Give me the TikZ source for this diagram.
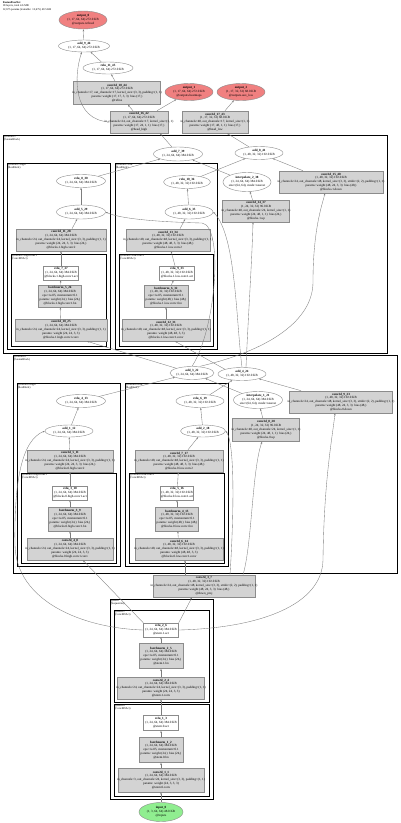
\documentclass[tikz,border=0pt]{standalone}
\usepackage{fontspec}
\setmainfont{Liberation Serif}
\usepackage{tikz}
\usetikzlibrary{arrows.meta, shapes.geometric}
\usepackage{xcolor}
\definecolor{modfill}{RGB}{211,211,211}
\definecolor{modline}{RGB}{140,140,140}
\definecolor{outfill}{RGB}{240,128,128}
\definecolor{infill}{RGB}{144,238,144}
\definecolor{edgegray}{RGB}{125,125,125}

\newcommand{\hb}[1]{\makebox[0pt]{#1}}
\newcommand{\modlbl}[5]{\hb{\textbf{#1}}\\\hb{#2}\\\hb{#3}\\\hb{#4}\\\hb{#5}}
\newcommand{\trilbl}[3]{\hb{\textbf{#1}}\\\hb{#2}\\\hb{#3}}
\newcommand{\duolbl}[2]{\hb{\textbf{#1}}\\\hb{#2}}

\tikzset{
  sz/.style 2 args={minimum width=#1pt, minimum height=#2pt},
  nodetxt/.style={font=\fontsize{3.2}{3.9}\selectfont, align=center, inner sep=0pt},
  modbox/.style={nodetxt, rectangle, draw=modline, fill=modfill, line width=0.6pt},
  relubox/.style={nodetxt, rectangle, draw=modline, fill=white, line width=0.5pt},
  fnell/.style={nodetxt, ellipse, draw=modline, fill=white, line width=0.4pt},
  outell/.style={nodetxt, ellipse, draw=modline, fill=outfill, line width=0.4pt},
  inell/.style={nodetxt, ellipse, draw=modline, fill=infill, line width=0.4pt},
  frame/.style={draw=black, line width=0.7pt},
  flabel/.style={font=\fontsize{2.8}{3.2}\selectfont, align=left, anchor=north west, inner sep=0.6pt},
  edge/.style={draw=edgegray, line width=0.35pt, -{Stealth[length=2.2pt,width=1.6pt]}}
}

\begin{document}
\begin{tikzpicture}[x=1pt, y=-1pt]
  \useasboundingbox[fill=white] (0,0) rectangle (400,823);

  % title
  \node[flabel] (title) at (2,1) {\textbf{FusionPoseNet}\\18 layers, total 4.6 MB\\12,675 params (trainable: 12,675) 49.5 KB};

  % clusters
  \foreach \xa/\ya/\xb/\yb/\nm/\cls/\id in {
      3/135/387/353/blocks.1/FusionBlock/fa,
      7/163/110/349/blocks.1.high/ResBlock/fb,
      11/254/106/346/blocks.1.high.conv1/ConvBNAct/fc,
      115/163/217/349/blocks.1.low/ResBlock/fd,
      119/254/213/346/blocks.1.low.conv1/ConvBNAct/fe,
      13/355/397/573/blocks.0/FusionBlock/ff,
      17/383/120/566/blocks.0.high/ResBlock/fg,
      21/473/116/563/blocks.0.high.conv1/ConvBNAct/fh,
      125/383/228/566/blocks.0.low/ResBlock/fi,
      129/473/224/563/blocks.0.low.conv1/ConvBNAct/fj,
      110/599/213/799/stem/Sequential/fk,
      114/610/209/702/stem.1/ConvBNAct/fl,
      114/704/209/796/stem.0/ConvBNAct/fm} {
    \draw[frame] (\xa,\ya) rectangle (\xb,\yb);
    \node[flabel] (lbl-\id) at (\xa,\ya) {@\nm\\(\cls)};
  }

  % heads and outputs
  \node[outell, sz={48}{18}] (output_0) at (83,20) {\trilbl{output\_0}{(1, 17, 64, 64) 272.0 KB}{@outputs.refined}};
  \node[fnell, sz={51}{12}] (add_9_46) at (84,46) {\duolbl{add\_9\_46}{(1, 17, 64, 64) 272.0 KB}};
  \node[fnell, sz={50}{12}] (relu_11_45) at (108,68) {\duolbl{relu\_11\_45}{(1, 17, 64, 64) 272.0 KB}};
  \node[modbox, sz={87}{23}] (conv2d_18_44) at (117,93) {\modlbl{conv2d\_18\_44}{(1, 17, 64, 64) 272.0 KB}{in\_channels=17, out\_channels=17, kernel\_size=(3, 3), padding=(1, 1)}{params: weight (17, 17, 3, 3) \ bias (17,)}{@refine}};
  \node[outell, sz={48}{17}] (output_1) at (189,92) {\trilbl{output\_1}{(1, 17, 64, 64) 272.0 KB}{@outputs.heatmaps}};
  \node[outell, sz={48}{17}] (output_2) at (241,92) {\trilbl{output\_2}{(1, 17, 32, 32) 68.0 KB}{@outputs.aux\_low}};
  \node[modbox, sz={58}{22}] (conv2d_16_42) at (139,122) {\modlbl{conv2d\_16\_42}{(1, 17, 64, 64) 272.0 KB}{in\_channels=24, out\_channels=17, kernel\_size=(1, 1)}{params: weight (17, 24, 1, 1) \ bias (17,)}{@head\_high}};
  \node[modbox, sz={66}{22}] (conv2d_17_43) at (215,122) {\modlbl{conv2d\_17\_43}{(1, 17, 32, 32) 68.0 KB}{in\_channels=48, out\_channels=17, kernel\_size=(1, 1)}{params: weight (17, 48, 1, 1) \ bias (17,)}{@head\_low}};

  % blocks.1
  \node[fnell, sz={49}{14}] (add_7_39) at (178,154) {\duolbl{add\_7\_39}{(1, 24, 64, 64) 384.0 KB}};
  \node[fnell, sz={48}{13}] (add_8_41) at (259,153) {\duolbl{add\_8\_41}{(1, 48, 32, 32) 192.0 KB}};
  \node[fnell, sz={48}{19}] (interpolate_2_38) at (247,182) {\trilbl{interpolate\_2\_38}{(1, 24, 64, 64) 384.0 KB}{size=(64, 64), mode=nearest}};
  \node[modbox, sz={67}{22}] (conv2d_14_37) at (256,211) {\modlbl{conv2d\_14\_37}{(1, 24, 32, 32) 96.0 KB}{in\_channels=48, out\_channels=24, kernel\_size=(1, 1)}{params: weight (24, 48, 1, 1) \ bias (24,)}{@blocks.1.up}};
  \node[modbox, sz={104}{22}] (conv2d_15_40) at (331,182) {\modlbl{conv2d\_15\_40}{(1, 48, 32, 32) 192.0 KB}{in\_channels=24, out\_channels=48, kernel\_size=(3, 3), stride=(2, 2), padding=(1, 1)}{params: weight (48, 24, 3, 3) \ bias (48,)}{@blocks.1.down}};

  \node[fnell, sz={49}{13}] (relu_8_30) at (81,181) {\duolbl{relu\_8\_30}{(1, 24, 64, 64) 384.0 KB}};
  \node[fnell, sz={49}{14}] (add_5_29) at (81,212) {\duolbl{add\_5\_29}{(1, 24, 64, 64) 384.0 KB}};
  \node[modbox, sz={90}{22}] (conv2d_11_28) at (61,240) {\modlbl{conv2d\_11\_28}{(1, 24, 64, 64) 384.0 KB}{in\_channels=24, out\_channels=24, kernel\_size=(3, 3), padding=(1, 1)}{params: weight (24, 24, 3, 3) \ bias (24,)}{@blocks.1.high.conv2}};
  \node[relubox, sz={35}{14}] (relu_7_27) at (61,273) {\trilbl{relu\_7\_27}{(1, 24, 64, 64) 384.0 KB}{@blocks.1.high.conv1.act}};
  \node[modbox, sz={43}{22}] (batchnorm_5_26) at (60,296) {\modlbl{batchnorm\_5\_26}{(1, 24, 64, 64) 384.0 KB}{eps=1e-05, momentum=0.1}{params: weight (24,) \ bias (24,)}{@blocks.1.high.conv1.bn}};
  \node[modbox, sz={92}{22}] (conv2d_10_25) at (61,330) {\modlbl{conv2d\_10\_25}{(1, 24, 64, 64) 384.0 KB}{in\_channels=24, out\_channels=24, kernel\_size=(3, 3), padding=(1, 1)}{params: weight (24, 24, 3, 3)}{@blocks.1.high.conv1.conv}};

  \node[fnell, sz={47}{13}] (relu_10_36) at (187,182) {\duolbl{relu\_10\_36}{(1, 48, 32, 32) 192.0 KB}};
  \node[fnell, sz={48}{14}] (add_6_35) at (189,212) {\duolbl{add\_6\_35}{(1, 48, 32, 32) 192.0 KB}};
  \node[modbox, sz={84}{22}] (conv2d_13_34) at (168,240) {\modlbl{conv2d\_13\_34}{(1, 48, 32, 32) 192.0 KB}{in\_channels=48, out\_channels=48, kernel\_size=(3, 3), padding=(1, 1)}{params: weight (48, 48, 3, 3) \ bias (48,)}{@blocks.1.low.conv2}};
  \node[relubox, sz={35}{14}] (relu_9_33) at (177,273) {\trilbl{relu\_9\_33}{(1, 48, 32, 32) 192.0 KB}{@blocks.1.low.conv1.act}};
  \node[modbox, sz={44}{22}] (batchnorm_6_32) at (166,296) {\modlbl{batchnorm\_6\_32}{(1, 48, 32, 32) 192.0 KB}{eps=1e-05, momentum=0.1}{params: weight (48,) \ bias (48,)}{@blocks.1.low.conv1.bn}};
  \node[modbox, sz={88}{22}] (conv2d_12_31) at (166,330) {\modlbl{conv2d\_12\_31}{(1, 48, 32, 32) 192.0 KB}{in\_channels=48, out\_channels=48, kernel\_size=(3, 3), padding=(1, 1)}{params: weight (48, 48, 3, 3)}{@blocks.1.low.conv1.conv}};

  % blocks.0
  \node[fnell, sz={44}{13}] (add_3_22) at (192,373) {\duolbl{add\_3\_22}{(1, 24, 64, 64) 384.0 KB}};
  \node[fnell, sz={48}{13}] (add_4_24) at (242,374) {\duolbl{add\_4\_24}{(1, 48, 32, 32) 192.0 KB}};
  \node[fnell, sz={49}{17}] (interpolate_1_21) at (258,400) {\trilbl{interpolate\_1\_21}{(1, 24, 64, 64) 384.0 KB}{size=(64, 64), mode=nearest}};
  \node[modbox, sz={103}{22}] (conv2d_9_23) at (341,402) {\modlbl{conv2d\_9\_23}{(1, 48, 32, 32) 192.0 KB}{in\_channels=24, out\_channels=48, kernel\_size=(3, 3), stride=(2, 2), padding=(1, 1)}{params: weight (48, 24, 3, 3) \ bias (48,)}{@blocks.0.down}};
  \node[modbox, sz={67}{23}] (conv2d_8_20) at (266,430) {\modlbl{conv2d\_8\_20}{(1, 24, 32, 32) 96.0 KB}{in\_channels=48, out\_channels=24, kernel\_size=(1, 1)}{params: weight (24, 48, 1, 1) \ bias (24,)}{@blocks.0.up}};

  \node[fnell, sz={49}{13}] (relu_4_13) at (81,401) {\duolbl{relu\_4\_13}{(1, 24, 64, 64) 384.0 KB}};
  \node[fnell, sz={48}{12}] (add_1_12) at (69,431) {\duolbl{add\_1\_12}{(1, 24, 64, 64) 384.0 KB}};
  \node[modbox, sz={86}{22}] (conv2d_5_11) at (70,461) {\modlbl{conv2d\_5\_11}{(1, 24, 64, 64) 384.0 KB}{in\_channels=24, out\_channels=24, kernel\_size=(3, 3), padding=(1, 1)}{params: weight (24, 24, 3, 3) \ bias (24,)}{@blocks.0.high.conv2}};
  \node[relubox, sz={35}{14}] (relu_3_10) at (70,493) {\trilbl{relu\_3\_10}{(1, 24, 64, 64) 384.0 KB}{@blocks.0.high.conv1.act}};
  \node[modbox, sz={43}{24}] (batchnorm_3_9) at (70,519) {\modlbl{batchnorm\_3\_9}{(1, 24, 64, 64) 384.0 KB}{eps=1e-05, momentum=0.1}{params: weight (24,) \ bias (24,)}{@blocks.0.high.conv1.bn}};
  \node[modbox, sz={86}{22}] (conv2d_4_8) at (70,549) {\modlbl{conv2d\_4\_8}{(1, 24, 64, 64) 384.0 KB}{in\_channels=24, out\_channels=24, kernel\_size=(3, 3), padding=(1, 1)}{params: weight (24, 24, 3, 3)}{@blocks.0.high.conv1.conv}};

  \node[fnell, sz={48}{13}] (relu_6_19) at (200,401) {\duolbl{relu\_6\_19}{(1, 48, 32, 32) 192.0 KB}};
  \node[fnell, sz={45}{12}] (add_2_18) at (203,431) {\duolbl{add\_2\_18}{(1, 48, 32, 32) 192.0 KB}};
  \node[modbox, sz={88}{22}] (conv2d_7_17) at (179,461) {\modlbl{conv2d\_7\_17}{(1, 48, 32, 32) 192.0 KB}{in\_channels=48, out\_channels=48, kernel\_size=(3, 3), padding=(1, 1)}{params: weight (48, 48, 3, 3) \ bias (48,)}{@blocks.0.low.conv2}};
  \node[relubox, sz={33}{14}] (relu_5_16) at (177,493) {\trilbl{relu\_5\_16}{(1, 48, 32, 32) 192.0 KB}{@blocks.0.low.conv1.act}};
  \node[modbox, sz={43}{24}] (batchnorm_4_15) at (177,519) {\modlbl{batchnorm\_4\_15}{(1, 48, 32, 32) 192.0 KB}{eps=1e-05, momentum=0.1}{params: weight (48,) \ bias (48,)}{@blocks.0.low.conv1.bn}};
  \node[modbox, sz={88}{22}] (conv2d_6_14) at (179,549) {\modlbl{conv2d\_6\_14}{(1, 48, 32, 32) 192.0 KB}{in\_channels=48, out\_channels=48, kernel\_size=(3, 3), padding=(1, 1)}{params: weight (48, 48, 3, 3)}{@blocks.0.low.conv1.conv}};

  \node[modbox, sz={102}{22}] (conv2d_3_7) at (204,586) {\modlbl{conv2d\_3\_7}{(1, 48, 32, 32) 192.0 KB}{in\_channels=24, out\_channels=48, kernel\_size=(3, 3), stride=(2, 2), padding=(1, 1)}{params: weight (48, 24, 3, 3) \ bias (48,)}{@down\_proj}};

  % stem
  \node[relubox, sz={35}{14}] (relu_2_6) at (161,630) {\trilbl{relu\_2\_6}{(1, 24, 64, 64) 384.0 KB}{@stem.1.act}};
  \node[modbox, sz={44}{25}] (batchnorm_2_5) at (161,656) {\modlbl{batchnorm\_2\_5}{(1, 24, 64, 64) 384.0 KB}{eps=1e-05, momentum=0.1}{params: weight (24,) \ bias (24,)}{@stem.1.bn}};
  \node[modbox, sz={87}{22}] (conv2d_2_4) at (161,688) {\modlbl{conv2d\_2\_4}{(1, 24, 64, 64) 384.0 KB}{in\_channels=24, out\_channels=24, kernel\_size=(3, 3), padding=(1, 1)}{params: weight (24, 24, 3, 3)}{@stem.1.conv}};
  \node[relubox, sz={35}{15}] (relu_1_3) at (161,723) {\trilbl{relu\_1\_3}{(1, 24, 64, 64) 384.0 KB}{@stem.0.act}};
  \node[modbox, sz={44}{25}] (batchnorm_1_2) at (161,750) {\modlbl{batchnorm\_1\_2}{(1, 24, 64, 64) 384.0 KB}{eps=1e-05, momentum=0.1}{params: weight (24,) \ bias (24,)}{@stem.0.bn}};
  \node[modbox, sz={86}{24}] (conv2d_1_1) at (161,780) {\modlbl{conv2d\_1\_1}{(1, 24, 64, 64) 384.0 KB}{in\_channels=3, out\_channels=24, kernel\_size=(3, 3), padding=(1, 1)}{params: weight (24, 3, 3, 3)}{@stem.0.conv}};
  \node[inell, sz={44}{19}] (input_0) at (161,812) {\trilbl{input\_0}{(1, 3, 64, 64) 48.0 KB}{@inputs}};

  \coordinate (lgap) at (15,545);
  \coordinate (rgap) at (323,560);
  \coordinate (hgap) at (202,223);
  \coordinate (dgap) at (313,282);

  % stem edges
  \draw[edge] (input_0) -- (conv2d_1_1);
  \draw[edge] (conv2d_1_1) -- (batchnorm_1_2);
  \draw[edge] (batchnorm_1_2) -- (relu_1_3);
  \draw[edge] (relu_1_3) -- (conv2d_2_4);
  \draw[edge] (conv2d_2_4) -- (batchnorm_2_5);
  \draw[edge] (batchnorm_2_5) -- (relu_2_6);
  \draw[edge] (relu_2_6.north west) -- ([xshift=13pt]conv2d_4_8.south);
  \draw[edge] (relu_2_6.west) .. controls (80,628) and (16,600) .. (lgap) .. controls (14,480) and (22,440) .. (add_1_12.west);
  \draw[edge] (relu_2_6.north east) -- ([xshift=-12pt]conv2d_3_7.south);
  \draw[edge] (relu_2_6.east) .. controls (260,628) and (322,605) .. (rgap) .. controls (324,480) and (332,440) .. ([xshift=-6pt]conv2d_9_23.south);
  \draw[edge] ([xshift=-19pt]conv2d_3_7.north) -- ([xshift=6pt]conv2d_6_14.south);
  \draw[edge] ([xshift=26pt]conv2d_3_7.north) .. controls (233,530) and (236,445) .. (add_2_18.east);
  \draw[edge] ([xshift=39pt]conv2d_3_7.north) .. controls (252,545) and (252,470) .. ([xshift=-4pt]conv2d_8_20.south);

  % blocks.0 edges
  \draw[edge] (conv2d_4_8) -- (batchnorm_3_9);
  \draw[edge] (batchnorm_3_9) -- (relu_3_10);
  \draw[edge] (relu_3_10) -- (conv2d_5_11);
  \draw[edge] (conv2d_5_11) -- (add_1_12);
  \draw[edge] (add_1_12) -- (relu_4_13);
  \draw[edge] (conv2d_6_14) -- (batchnorm_4_15);
  \draw[edge] (batchnorm_4_15) -- (relu_5_16);
  \draw[edge] (relu_5_16) -- (conv2d_7_17);
  \draw[edge] (conv2d_7_17) -- (add_2_18);
  \draw[edge] (add_2_18) -- (relu_6_19);
  \draw[edge] (conv2d_8_20) -- (interpolate_1_21);
  \draw[edge] (relu_4_13) -- (add_3_22);
  \draw[edge] (interpolate_1_21) -- (add_3_22);
  \draw[edge] (relu_6_19) -- (add_4_24);
  \draw[edge] (conv2d_9_23) -- (add_4_24);

  % into blocks.1
  \draw[edge] (add_3_22.north west) -- ([xshift=26pt]conv2d_10_25.south);
  \draw[edge] (add_3_22.north) .. controls (216,330) and (224,226) .. (hgap) .. controls (160,222) and (120,219) .. (add_5_29.east);
  \draw[edge] ([xshift=8pt]add_3_22.north) .. controls (270,350) and (313,320) .. (dgap) .. controls (313,230) and (322,205) .. ([xshift=-6pt]conv2d_15_40.south);
  \draw[edge] (add_4_24.north west) -- ([xshift=9pt]conv2d_12_31.south);
  \draw[edge] (add_4_24.north) .. controls (236,320) and (236,235) .. (add_6_35.east);
  \draw[edge] ([xshift=4pt]add_4_24.north) .. controls (248,320) and (252,260) .. ([xshift=-3pt]conv2d_14_37.south);

  % blocks.1 edges
  \draw[edge] (conv2d_10_25) -- (batchnorm_5_26);
  \draw[edge] (batchnorm_5_26) -- (relu_7_27);
  \draw[edge] (relu_7_27) -- (conv2d_11_28);
  \draw[edge] ([xshift=11pt]conv2d_11_28.north) -- (add_5_29);
  \draw[edge] (add_5_29) -- (relu_8_30);
  \draw[edge] (conv2d_12_31) -- (batchnorm_6_32);
  \draw[edge] (batchnorm_6_32) -- (relu_9_33);
  \draw[edge] (relu_9_33) -- (conv2d_13_34);
  \draw[edge] ([xshift=12pt]conv2d_13_34.north) -- (add_6_35);
  \draw[edge] (add_6_35) -- (relu_10_36);
  \draw[edge] (conv2d_14_37) -- (interpolate_2_38);
  \draw[edge] (relu_8_30) -- (add_7_39);
  \draw[edge] (interpolate_2_38) -- (add_7_39);
  \draw[edge] (relu_10_36) -- (add_8_41);
  \draw[edge] (conv2d_15_40) -- (add_8_41);

  % heads
  \draw[edge] (add_7_39) -- ([xshift=21pt]conv2d_16_42.south);
  \draw[edge] (add_8_41) -- ([xshift=12pt]conv2d_17_43.south);
  \draw[edge] ([xshift=-6pt]conv2d_16_42.north) -- ([xshift=11pt]conv2d_18_44.south);
  \draw[edge] ([xshift=18pt]conv2d_16_42.north) -- (output_1);
  \draw[edge] (conv2d_16_42.west) .. controls (72,120) and (74,75) .. (add_9_46.250);
  \draw[edge] ([xshift=-2pt]conv2d_18_44.north) -- (relu_11_45);
  \draw[edge] (relu_11_45) -- (add_9_46);
  \draw[edge] (add_9_46) -- (output_0);
  \draw[edge] ([xshift=10pt]conv2d_17_43.north) -- (output_2);
\end{tikzpicture}
\end{document}
